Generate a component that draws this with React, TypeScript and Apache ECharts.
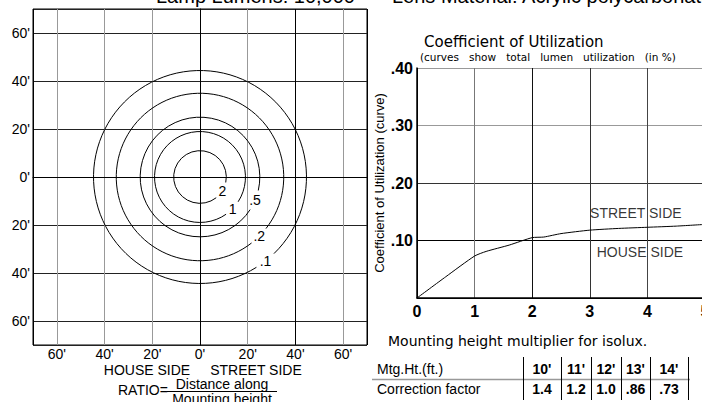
import React, { useEffect, useRef } from "react";
import * as echarts from "echarts";

// ---- data ----
const isoLevels = ["2", "1", ".5", ".2", ".1"]; // isolux curve labels
const isoRadiusFt = [11, 19, 25, 35, 44.5]; // radius of each isolux curve (ft)

const cuRatio = [0, 0.5, 1, 1.2, 1.6, 2, 2.2, 2.5, 3, 3.5, 4, 4.5, 5];
const cuValue = [0, 0.037, 0.073, 0.081, 0.092, 0.105, 0.106, 0.112, 0.118, 0.121, 0.123, 0.125, 0.128];

const sideLabels = ["STREET SIDE", "HOUSE SIDE"];

const mtgHeights = ["10'", "11'", "12'", "13'", "14'"];
const correctionFactors = ["1.4", "1.2", "1.0", ".86", ".73"];

// ---- styling (not data) ----
const FONT = "'Liberation Sans', Arial, Helvetica, sans-serif";
const WIDE = "'DejaVu Sans', Verdana, sans-serif";
const labelAngleDeg = [32, 44, 23, 45, 52];
const gapDeg = [20, 11, 10, 7, 6];
const sideLabelPos = [
  [3.8, 0.148],
  [3.87, 0.08],
];
const tableBars = [523, 561, 591, 621, 650, 688];

function txt(text: string, x: number, y: number, size: number, opts: any = {}) {
  return {
    type: "text",
    x,
    y,
    silent: true,
    style: {
      text,
      fill: "#000",
      font: `${opts.weight || "normal"} ${size}px ${opts.family || FONT}`,
      align: opts.align || "left",
      textAlign: opts.align || "left",
      verticalAlign: opts.va || "middle",
      textVerticalAlign: opts.va || "middle",
    },
  };
}

export default function App() {
  const ref = useRef<HTMLDivElement>(null);
  useEffect(() => {
    if (!ref.current) return;
    const chart = echarts.init(ref.current, undefined, { renderer: "svg" });

    const graphics: any[] = [];
    // clipped header texts
    graphics.push(txt("Lamp Lumens: 10,000", 355, 6, 20, { align: "right", va: "bottom" }));
    graphics.push(txt("Lens Material: Acrylic polycarbonate", 392, 6, 20, { va: "bottom" }));
    // left chart captions
    graphics.push(txt("HOUSE SIDE", 147, 370, 14, { align: "center" }));
    graphics.push(txt("STREET SIDE", 256, 370, 14, { align: "center" }));
    graphics.push(txt("RATIO=", 118, 390, 14));
    graphics.push(txt("Distance along", 222, 384, 14, { align: "center" }));
    graphics.push({
      type: "line",
      silent: true,
      shape: { x1: 167, y1: 391.5, x2: 277, y2: 391.5 },
      style: { stroke: "#000", lineWidth: 1 },
    });
    graphics.push(txt("Mounting height", 222, 399, 14, { align: "center" }));
    // right chart titles
    graphics.push(txt("Coefficient of Utilization", 424, 42, 15, { family: WIDE }));
    graphics.push(txt("(curves   show   total   lumen   utilization   (in %)", 420, 57, 10.5, { family: WIDE }));
    // table
    graphics.push(txt("Mounting height multiplier for isolux.", 388, 341, 14, { family: WIDE }));
    graphics.push(txt("Mtg.Ht.(ft.)", 377, 369, 14));
    graphics.push(txt("Correction factor", 377, 389, 14));
    graphics.push({
      type: "line",
      silent: true,
      shape: { x1: 372, y1: 379.5, x2: 690, y2: 379.5 },
      style: { stroke: "#999", lineWidth: 1.5 },
    });
    tableBars.forEach((bx) => {
      graphics.push({
        type: "line",
        silent: true,
        shape: { x1: bx + 0.5, y1: 357, x2: bx + 0.5, y2: 400 },
        style: { stroke: "#000", lineWidth: 1 },
      });
    });
    mtgHeights.forEach((h, i) => {
      const cx = (tableBars[i] + tableBars[i + 1]) / 2;
      graphics.push(txt(h, cx, 369, 14, { align: "center", weight: "bold" }));
      graphics.push(txt(correctionFactors[i], cx, 389, 14, { align: "center", weight: "bold" }));
    });

    const option: any = {
      animation: false,
      textStyle: { fontFamily: FONT, color: "#000" },
      grid: [
        { left: 33, top: 9, width: 334, height: 336, show: true, borderColor: "#000", borderWidth: 1, backgroundColor: "transparent", outerBoundsMode: "none", containLabel: false },
        { left: 417, top: 68, width: 288, height: 230, show: false, outerBoundsMode: "none", containLabel: false },
      ],
      xAxis: [
        {
          gridIndex: 0,
          type: "value",
          min: -70,
          max: 70,
          splitNumber: 7,
          axisLine: { show: true, lineStyle: { color: "#000" } },
          axisTick: { show: false },
          axisLabel: {
            margin: 2,
            color: "#000",
            fontSize: 14,
            fontFamily: FONT,
            showMinLabel: false,
            showMaxLabel: false,
            formatter: (v: number) => Math.abs(v) + "'",
          },
          splitLine: {
            show: true,
            lineStyle: { color: ["#000", "#999", "#999", "#999", "#000", "#999", "#000", "#999", "#000"], width: 1 },
          },
        },
        {
          gridIndex: 1,
          type: "value",
          min: 0,
          max: 5,
          interval: 1,
          axisLine: { show: true, lineStyle: { color: "#000", width: 1.5 } },
          axisTick: { show: false },
          axisLabel: { margin: 5, color: "#000", fontSize: 16, fontWeight: "bold", fontFamily: FONT },
          splitLine: { show: true, lineStyle: { color: ["#000", "#777", "#111", "#333", "#444", "#444"], width: 1 } },
        },
      ],
      yAxis: [
        {
          gridIndex: 0,
          type: "value",
          min: -70,
          max: 70,
          splitNumber: 7,
          axisLine: { show: true, lineStyle: { color: "#000" } },
          axisTick: { show: false },
          axisLabel: {
            margin: 3,
            color: "#000",
            fontSize: 14,
            fontFamily: FONT,
            showMinLabel: false,
            showMaxLabel: false,
            formatter: (v: number) => Math.abs(v) + "'",
          },
          splitLine: { show: true, lineStyle: { color: "#222", width: 1 } },
        },
        {
          gridIndex: 1,
          type: "value",
          min: 0,
          max: 0.4,
          interval: 0.1,
          name: "Coefficient of Utilization (curve)",
          nameLocation: "middle",
          nameGap: 31,
          nameRotate: 90,
          nameTextStyle: { color: "#000", fontSize: 13, fontFamily: FONT },
          axisLine: { show: true, lineStyle: { color: "#000", width: 1.5 } },
          axisTick: { show: false },
          axisLabel: {
            margin: 4,
            color: "#000",
            fontSize: 16,
            fontWeight: "bold",
            fontFamily: FONT,
            formatter: (v: number) => (v === 0 ? "" : "." + String(Math.round(v * 100)).padStart(2, "0")),
          },
          splitLine: { show: true, lineStyle: { color: ["#000", "#000", "#333", "#999", "#999"], width: 1 } },
        },
      ],
      series: [
        {
          type: "custom",
          coordinateSystem: "cartesian2d",
          xAxisIndex: 0,
          yAxisIndex: 0,
          silent: true,
          data: isoRadiusFt.map((r, i) => [r, i]),
          renderItem: (params: any, api: any) => {
            const i = params.dataIndex;
            const r = api.value(0);
            const c = api.coord([0, 0]);
            const s = api.size([r, r]);
            const rp = (s[0] + s[1]) / 2;
            const a = (labelAngleDeg[i] * Math.PI) / 180;
            const g = (gapDeg[i] * Math.PI) / 180;
            return {
              type: "group",
              children: [
                {
                  type: "arc",
                  shape: { cx: c[0], cy: c[1], r: rp, startAngle: a + g, endAngle: a - g + Math.PI * 2, clockwise: true },
                  style: { stroke: "#000", fill: null, lineWidth: 1 },
                },
                {
                  type: "text",
                  x: c[0] + rp * Math.cos(a),
                  y: c[1] + rp * Math.sin(a),
                  style: {
                    text: isoLevels[i],
                    fill: "#000",
                    font: `14px ${FONT}`,
                    align: "center",
                    verticalAlign: "middle",
                    textAlign: "center",
                    textVerticalAlign: "middle",
                  },
                },
              ],
            };
          },
        },
        {
          type: "line",
          xAxisIndex: 1,
          yAxisIndex: 1,
          data: cuRatio.map((x, i) => [x, cuValue[i]]),
          showSymbol: false,
          symbol: "none",
          smooth: 0.2,
          lineStyle: { color: "#000", width: 1 },
          silent: true,
        },
        {
          type: "scatter",
          xAxisIndex: 1,
          yAxisIndex: 1,
          symbolSize: 0,
          silent: true,
          data: sideLabels.map((s, i) => ({ value: [sideLabelPos[i][0], sideLabelPos[i][1]], name: s })),
          label: {
            show: true,
            position: "inside",
            formatter: (p: any) => p.name,
            color: "#000",
            fontSize: 14,
            fontFamily: FONT,
          },
        },
      ],
      graphic: graphics,
    };
    chart.setOption(option);
    return () => chart.dispose();
  }, []);
  return (
    <div
      ref={ref}
      style={{ position: "fixed", left: 0, top: 0, width: 702, height: 402, background: "#fff" }}
    />
  );
}
